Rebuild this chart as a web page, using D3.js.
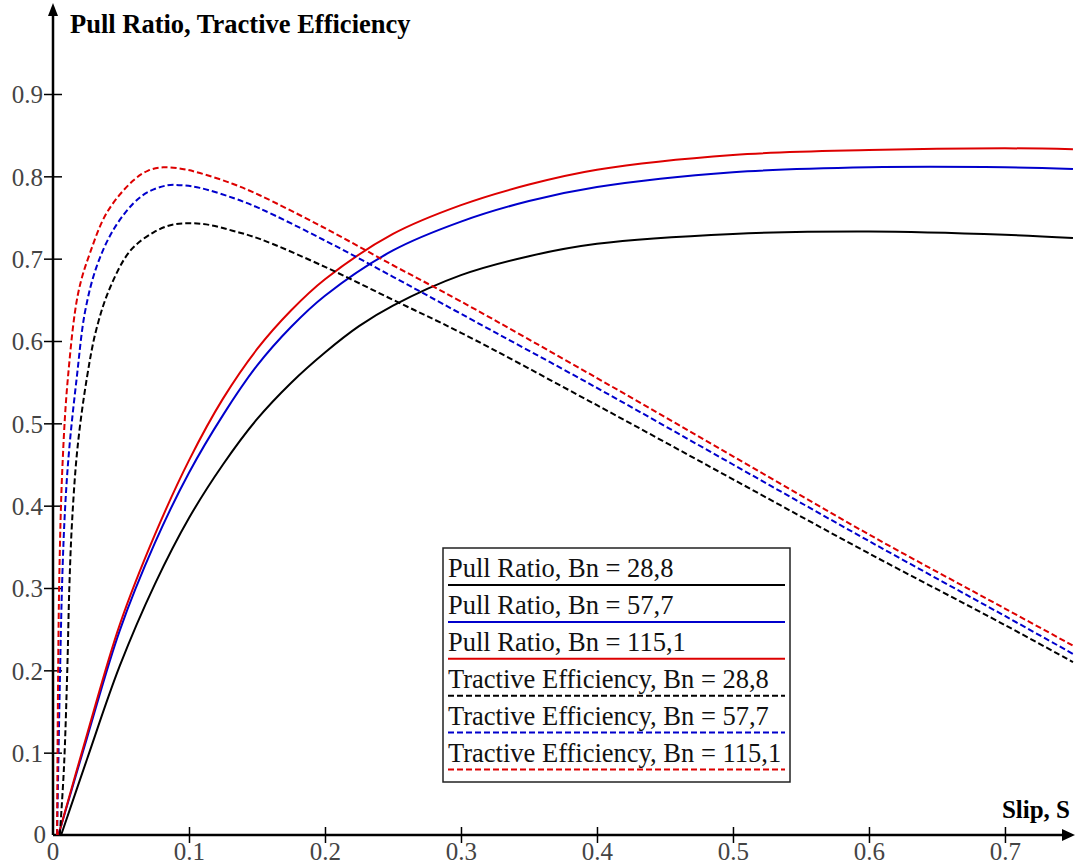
<!DOCTYPE html>
<html>
<head>
<meta charset="utf-8">
<script src="https://cdn.jsdelivr.net/npm/d3@7"></script>
<style>
  body { margin: 0; background: #fff; }
  svg { display: block; font-family: "Liberation Serif", "Times New Roman", serif; }
  .axis path { display: none; }
  .axis line { stroke: #000; stroke-width: 1.5; }
  .axis text { font-size: 25px; fill: #444; font-family: "Liberation Serif", serif; }
</style>
</head>
<body>
<div id="chart"></div>
<script>
// slip values and curves
var slipPull288 = [0.006, 0.025, 0.049, 0.075, 0.1, 0.125, 0.15, 0.175, 0.2, 0.225, 0.25, 0.3, 0.35, 0.4, 0.5, 0.6, 0.7, 0.75];
var pull288     = [0, 0.092, 0.205, 0.305, 0.385, 0.45, 0.505, 0.549, 0.586, 0.618, 0.643, 0.68, 0.703, 0.718, 0.73, 0.733, 0.729, 0.725];
var slipPull    = [0.004, 0.025, 0.049, 0.075, 0.1, 0.125, 0.15, 0.175, 0.2, 0.25, 0.3, 0.35, 0.4, 0.5, 0.6, 0.7, 0.75];
var pull577     = [0, 0.118, 0.248, 0.355, 0.44, 0.51, 0.57, 0.617, 0.655, 0.71, 0.745, 0.77, 0.787, 0.805, 0.811, 0.811, 0.809];
var pull1151    = [0, 0.122, 0.255, 0.365, 0.455, 0.53, 0.59, 0.637, 0.675, 0.73, 0.765, 0.79, 0.808, 0.826, 0.832, 0.834, 0.833];

var slipTE288  = [0.005, 0.008, 0.0105, 0.012, 0.014, 0.018, 0.025, 0.032, 0.042, 0.057, 0.074, 0.087, 0.1, 0.115, 0.132, 0.152, 0.2, 0.25, 0.3, 0.4, 0.5, 0.6, 0.7, 0.75];
var te288      = [0, 0.08, 0.2, 0.3, 0.38, 0.47, 0.556, 0.615, 0.665, 0.71, 0.732, 0.741, 0.743, 0.741, 0.734, 0.724, 0.69, 0.65, 0.61, 0.522, 0.432, 0.342, 0.255, 0.21];
var slipTE577  = [0.003, 0.0066, 0.009, 0.012, 0.0175, 0.0235, 0.032, 0.044, 0.059, 0.07, 0.084, 0.096, 0.108, 0.132, 0.152, 0.2, 0.25, 0.3, 0.4, 0.5, 0.6, 0.7, 0.75];
var te577      = [0, 0.3, 0.4, 0.47, 0.556, 0.635, 0.69, 0.734, 0.767, 0.781, 0.789, 0.789, 0.786, 0.774, 0.761, 0.722, 0.678, 0.633, 0.543, 0.45, 0.357, 0.266, 0.22];
var slipTE1151 = [0.003, 0.0045, 0.007, 0.011, 0.0185, 0.027, 0.04, 0.059, 0.07, 0.081, 0.095, 0.108, 0.132, 0.152, 0.2, 0.25, 0.3, 0.4, 0.5, 0.6, 0.7, 0.75];
var te1151     = [0, 0.3, 0.45, 0.556, 0.658, 0.706, 0.757, 0.795, 0.807, 0.811, 0.809, 0.804, 0.791, 0.777, 0.737, 0.692, 0.648, 0.555, 0.46, 0.365, 0.275, 0.23];

var xTicks = [0.1, 0.2, 0.3, 0.4, 0.5, 0.6, 0.7];
var yTicks = [0.1, 0.2, 0.3, 0.4, 0.5, 0.6, 0.7, 0.8, 0.9];

var series = [
  {name: "Pull Ratio, Bn = 28,8", s: slipPull288, v: pull288, color: "#000", dash: null},
  {name: "Pull Ratio, Bn = 57,7", s: slipPull, v: pull577, color: "#0000cc", dash: null},
  {name: "Pull Ratio, Bn = 115,1", s: slipPull, v: pull1151, color: "#dd0000", dash: null},
  {name: "Tractive Efficiency, Bn = 28,8", s: slipTE288, v: te288, color: "#000", dash: "6,3"},
  {name: "Tractive Efficiency, Bn = 57,7", s: slipTE577, v: te577, color: "#0000cc", dash: "6,3"},
  {name: "Tractive Efficiency, Bn = 115,1", s: slipTE1151, v: te1151, color: "#dd0000", dash: "6,3"}
];

var W = 1075, H = 866;

var svg = d3.select("#chart").append("svg")
    .attr("width", W)
    .attr("height", H);

var x = d3.scaleLinear().domain([0, 0.7515]).range([53, 1075]);
var y = d3.scaleLinear().domain([0, 0.9]).range([835, 94]);

svg.append("defs").append("clipPath").attr("id", "plot")
  .append("rect").attr("x", 53).attr("y", 0).attr("width", W - 53).attr("height", 836);

// axes
var xAxis = d3.axisBottom(x).tickValues(xTicks).tickSize(8).tickPadding(0).tickFormat(d3.format(".1f"));
var yAxis = d3.axisLeft(y).tickValues(yTicks).tickSize(9).tickPadding(1).tickFormat(d3.format(".1f"));

var gx = svg.append("g").attr("class", "axis")
    .attr("transform", "translate(0," + y(0) + ")")
    .call(xAxis);
gx.selectAll(".tick line").attr("y1", -8);
gx.selectAll(".tick text").attr("dy", "0.68em");

var gy = svg.append("g").attr("class", "axis")
    .attr("transform", "translate(" + x(0) + ",0)")
    .call(yAxis);
gy.selectAll(".tick line").attr("x1", 9);
gy.selectAll(".tick text").attr("dy", "0.35em");

// zero labels
svg.append("text").attr("x", x(0)).attr("y", y(0) + 25)
  .attr("text-anchor", "middle").style("font-size", "25px").style("fill", "#444").text("0");
svg.append("text").attr("x", x(0) - 7).attr("y", y(0) + 8)
  .attr("text-anchor", "end").style("font-size", "25px").style("fill", "#444").text("0");

// axis lines with arrows
svg.append("line").attr("x1", x(0)).attr("x2", W - 8).attr("y1", y(0)).attr("y2", y(0))
  .attr("stroke", "#000").attr("stroke-width", 2.5);
svg.append("path").attr("d", "M" + W + "," + y(0) + "L" + (W - 13) + "," + (y(0) - 6) + "L" + (W - 13) + "," + (y(0) + 6) + "Z")
  .attr("fill", "#000");
svg.append("line").attr("x1", x(0)).attr("x2", x(0)).attr("y1", y(0)).attr("y2", 14)
  .attr("stroke", "#000").attr("stroke-width", 2.5);
svg.append("path").attr("d", "M" + x(0) + ",3L" + (x(0) - 5) + ",16L" + (x(0) + 5) + ",16Z")
  .attr("fill", "#000");

// axis titles
svg.append("text").attr("x", 70).attr("y", 33)
  .style("font-size", "26.5px").style("font-weight", "bold").text("Pull Ratio, Tractive Efficiency");
svg.append("text").attr("x", 1070).attr("y", 818).attr("text-anchor", "end")
  .style("font-size", "25px").style("font-weight", "bold").text("Slip, S");

// curves
var line = d3.line()
    .x(function(d){ return x(d[0]); })
    .y(function(d){ return y(d[1]); })
    .curve(d3.curveCatmullRom.alpha(0.5));

svg.append("g").attr("clip-path", "url(#plot)")
  .selectAll("path")
  .data(series)
  .enter().append("path")
  .attr("d", function(d){ return line(d3.zip(d.s, d.v)); })
  .attr("fill", "none")
  .attr("stroke", function(d){ return d.color; })
  .attr("stroke-width", 2)
  .attr("stroke-dasharray", function(d){ return d.dash; });

// legend
var lg = svg.append("g");
lg.append("rect").attr("x", 443).attr("y", 548).attr("width", 347).attr("height", 234)
  .attr("fill", "#fff").attr("stroke", "#222").attr("stroke-width", 1.5);

var rows = lg.selectAll("g.row").data(series).enter().append("g").attr("class", "row")
  .attr("transform", function(d, i){ return "translate(0," + (585 + 36.9 * i) + ")"; });
rows.append("text").attr("x", 448).attr("y", -8)
  .style("font-size", "26.5px").style("fill", "#111").text(function(d){ return d.name; });
rows.append("line").attr("x1", 448).attr("x2", 785).attr("y1", 0).attr("y2", 0)
  .attr("stroke", function(d){ return d.color; })
  .attr("stroke-width", 2)
  .attr("stroke-dasharray", function(d){ return d.dash; });
</script>
</body>
</html>
